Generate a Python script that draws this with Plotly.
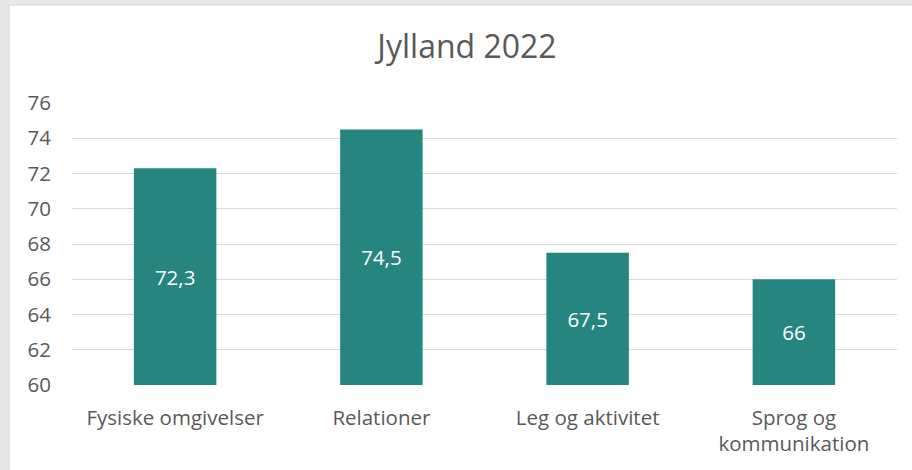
import plotly.graph_objects as go

categories = ["Fysiske omgivelser", "Relationer", "Leg og aktivitet", "Sprog og<br>kommunikation"]
values = [72.3, 74.5, 67.5, 66]
value_labels = ["72,3", "74,5", "67,5", "66"]
y_ticks = [60, 62, 64, 66, 68, 70, 72, 74, 76]
axis_min = 60

W, H = 912, 470
L, R, T, B = 72, 15, 103, 85
pw, ph = W - L - R, H - T - B

def px_x(x):
    return (x - L) / pw

def px_y(y):
    return (H - B - y) / ph

FONT = "Open Sans"
GRAY = "#595959"
FS = 20.5

fig = go.Figure(go.Bar(
    x=categories, y=[v - axis_min for v in values], base=axis_min, text=value_labels,
    textposition="inside", insidetextanchor="middle",
    textfont=dict(color="white", size=FS, family=FONT),
    marker=dict(color="#26867F", line=dict(width=0)),
    width=0.4, hoverinfo="none",
))

fig.update_layout(
    width=W, height=H,
    margin=dict(l=L, r=R, t=T, b=B, autoexpand=False),
    paper_bgcolor="#E8E8E8",
    plot_bgcolor="rgba(0,0,0,0)",
    title=dict(text="Jylland 2022", x=467 / W, xanchor="center", y=1 - 47 / H, yanchor="middle",
               font=dict(size=32, color=GRAY, family=FONT)),
    showlegend=False,
    uniformtext=dict(minsize=FS, mode="show"),
    shapes=[dict(type="rect", xref="paper", yref="paper",
                 x0=px_x(9), x1=px_x(913), y0=px_y(471), y1=px_y(5),
                 fillcolor="white", line=dict(color="#D4D4D4", width=1), layer="below")],
    xaxis=dict(tickfont=dict(size=FS, color=GRAY, family=FONT), showgrid=False,
               showline=False, ticks="", ticklabelstandoff=18, fixedrange=True),
    yaxis=dict(range=[60, 76], tickvals=y_ticks, showgrid=True, gridcolor="#D9D9D9", gridwidth=1,
               tickfont=dict(size=FS, color=GRAY, family=FONT), zeroline=False,
               showline=False, ticks="", ticklabelstandoff=20, fixedrange=True),
)

fig.write_html("out.html", config={"displayModeBar": False},
               post_script="document.body.style.margin='0';")
